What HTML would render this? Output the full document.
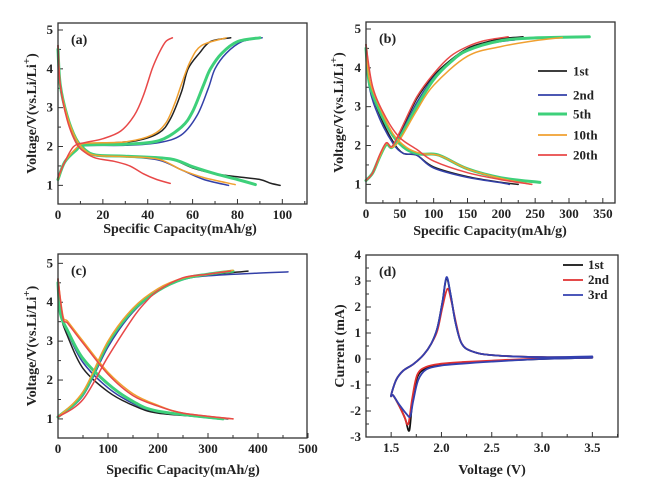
<!DOCTYPE html>
<html><head><meta charset="utf-8">
<style>
html,body{margin:0;padding:0;background:#fff;}
svg{display:block;font-family:"Liberation Serif",serif;}
.tk{font-size:13px;font-weight:bold;fill:#222;}
.ti{font-size:14px;font-weight:bold;fill:#222;}
</style></head>
<body>
<svg id="fig" width="647" height="484" viewBox="0 0 647 484"></svg>
<script>
const COLORS = ["#222222","#3340a8","#3ed07a","#f0a030","#e84848"];
const cycleNames = ["1st","2nd","5th","10th","20th"];
// Panel (a): charge and discharge curves [capacity, voltage]
const aCharge = [
 [[0,1.15],[3,1.6],[8,1.9],[12,2.05],[20,2.08],[35,2.15],[45,2.35],[50,2.7],[55,3.4],[58,4.0],[63,4.4],[68,4.7],[77,4.8]],
 [[0,1.15],[3,1.6],[8,1.9],[12,2.02],[30,2.03],[45,2.1],[55,2.3],[62,2.8],[67,3.5],[70,4.0],[75,4.4],[82,4.7],[91,4.8]],
 [[0,1.15],[3,1.6],[8,1.9],[12,2.04],[30,2.06],[45,2.15],[55,2.5],[60,2.9],[65,3.6],[68,4.0],[73,4.4],[80,4.7],[90,4.8]],
 [[0,1.15],[3,1.6],[8,1.95],[12,2.08],[30,2.12],[42,2.3],[48,2.6],[52,3.1],[55,3.6],[59,4.2],[64,4.6],[75,4.8]],
 [[0,1.2],[3,1.6],[7,2.0],[12,2.1],[20,2.2],[28,2.4],[34,2.8],[38,3.3],[42,4.0],[45,4.4],[48,4.7],[51,4.8]]
];
const aDischarge = [
 [[0,4.6],[1,3.6],[4,2.8],[8,2.2],[12,1.9],[17,1.78],[30,1.75],[45,1.72],[52,1.65],[60,1.45],[70,1.3],[80,1.22],[90,1.15],[95,1.05],[99,1.0]],
 [[0,4.6],[1,3.6],[4,2.8],[8,2.2],[12,1.9],[17,1.76],[30,1.74],[45,1.65],[55,1.4],[65,1.15],[76,1.0]],
 [[0,4.5],[1,3.6],[4,2.8],[8,2.2],[12,1.92],[17,1.78],[30,1.75],[50,1.68],[60,1.48],[70,1.3],[80,1.15],[88,1.02]],
 [[0,4.6],[1,3.6],[4,2.8],[8,2.2],[12,1.9],[17,1.77],[30,1.74],[45,1.67],[55,1.4],[65,1.2],[79,1.02]],
 [[0,4.6],[1,3.6],[4,2.7],[8,2.1],[12,1.85],[17,1.7],[25,1.62],[32,1.5],[38,1.3],[44,1.15],[50,1.05]]
];
// Panel (b)
const bCharge = [
 [[0,1.1],[10,1.3],[20,1.7],[30,2.05],[38,1.95],[50,2.3],[75,3.2],[100,3.8],[125,4.2],[150,4.5],[175,4.65],[200,4.75],[232,4.8]],
 [[0,1.1],[10,1.3],[20,1.7],[30,2.02],[38,1.95],[50,2.25],[75,3.1],[100,3.75],[125,4.15],[150,4.45],[175,4.6],[200,4.68],[220,4.72]],
 [[0,1.1],[10,1.3],[20,1.7],[30,2.03],[38,1.95],[50,2.2],[75,3.0],[100,3.7],[125,4.15],[150,4.45],[200,4.7],[250,4.77],[330,4.8]],
 [[0,1.1],[10,1.3],[20,1.7],[30,2.05],[38,1.95],[50,2.15],[75,2.9],[100,3.55],[150,4.3],[200,4.55],[250,4.7],[290,4.78]],
 [[0,1.1],[10,1.3],[20,1.75],[30,2.07],[38,1.97],[50,2.35],[75,3.25],[100,3.85],[125,4.3],[150,4.55],[175,4.7],[210,4.8]]
];
const bDischarge = [
 [[0,4.6],[5,3.6],[20,2.8],[40,2.1],[55,1.8],[75,1.75],[100,1.45],[150,1.2],[200,1.05],[225,1.0]],
 [[0,4.6],[5,3.5],[20,2.7],[40,2.05],[55,1.8],[75,1.75],[100,1.42],[150,1.18],[200,1.04],[212,1.0]],
 [[0,4.5],[5,3.6],[20,2.9],[40,2.25],[60,1.9],[80,1.78],[100,1.78],[115,1.7],[150,1.4],[200,1.17],[257,1.05]],
 [[0,4.6],[5,3.7],[20,3.0],[40,2.3],[60,1.95],[80,1.8],[100,1.77],[115,1.7],[150,1.4],[200,1.15],[245,1.0]],
 [[0,4.6],[10,3.5],[30,2.7],[50,2.2],[75,1.9],[100,1.6],[150,1.3],[200,1.12],[245,1.0]]
];
// Panel (c)
const cCharge = [
 [[0,1.05],[50,1.65],[100,2.9],[150,3.8],[200,4.3],[250,4.6],[300,4.7],[380,4.8]],
 [[0,1.05],[50,1.6],[100,2.85],[150,3.75],[200,4.28],[250,4.58],[300,4.68],[400,4.75],[460,4.78]],
 [[0,1.05],[50,1.65],[100,2.95],[150,3.8],[200,4.3],[250,4.6],[300,4.72],[350,4.8]],
 [[0,1.05],[50,1.7],[100,3.0],[150,3.85],[200,4.35],[250,4.62],[300,4.72],[350,4.82]],
 [[0,1.05],[50,1.5],[100,2.6],[150,3.6],[175,4.0],[200,4.3],[250,4.63],[300,4.72],[345,4.8]]
];
const cDischarge = [
 [[0,4.6],[5,3.7],[20,3.1],[50,2.3],[100,1.7],[150,1.35],[200,1.15],[300,1.05],[340,1.0]],
 [[0,4.6],[5,3.7],[20,3.2],[50,2.45],[100,1.8],[150,1.4],[200,1.18],[320,1.0]],
 [[0,4.5],[5,3.7],[20,3.25],[50,2.55],[100,1.9],[150,1.45],[200,1.2],[330,1.0]],
 [[0,4.6],[10,3.65],[20,3.5],[50,3.0],[100,2.2],[150,1.65],[200,1.35],[250,1.15],[350,1.0]],
 [[0,4.6],[10,3.6],[20,3.45],[50,2.95],[100,2.15],[150,1.6],[200,1.33],[250,1.15],[350,1.0]]
];
// Panel (d) CV loops [voltage, current]
const dNames = ["1st","2nd","3rd"];
const dColors = ["#111111","#e03030","#3340b0"];
const dLoops = [
 [[3.5,0.05],[3.0,0.0],[2.5,-0.08],[2.2,-0.15],[2.0,-0.22],[1.85,-0.35],[1.76,-0.7],[1.71,-1.7],[1.68,-2.75],[1.64,-2.3],[1.58,-1.8],[1.52,-1.4],[1.5,-1.4],[1.55,-0.8],[1.62,-0.45],[1.72,-0.2],[1.82,0.15],[1.9,0.6],[1.96,1.2],[2.01,2.2],[2.05,3.1],[2.09,2.5],[2.14,1.4],[2.2,0.6],[2.3,0.3],[2.5,0.15],[3.0,0.07],[3.5,0.08]],
 [[3.5,0.05],[3.0,0.02],[2.5,-0.06],[2.2,-0.12],[2.0,-0.18],[1.85,-0.3],[1.76,-0.6],[1.71,-1.5],[1.67,-2.5],[1.63,-2.2],[1.58,-1.8],[1.52,-1.4],[1.5,-1.4],[1.55,-0.8],[1.62,-0.45],[1.72,-0.2],[1.82,0.15],[1.9,0.6],[1.96,1.1],[2.01,2.0],[2.06,2.7],[2.1,2.2],[2.15,1.3],[2.2,0.6],[2.3,0.3],[2.5,0.15],[3.0,0.07],[3.5,0.08]],
 [[3.5,0.05],[3.0,0.0],[2.5,-0.1],[2.2,-0.18],[2.0,-0.25],[1.85,-0.4],[1.77,-0.8],[1.72,-1.6],[1.69,-2.2],[1.65,-2.1],[1.58,-1.75],[1.52,-1.4],[1.5,-1.4],[1.55,-0.8],[1.62,-0.45],[1.72,-0.2],[1.82,0.15],[1.9,0.6],[1.96,1.2],[2.01,2.2],[2.05,3.15],[2.09,2.5],[2.14,1.4],[2.2,0.6],[2.3,0.3],[2.5,0.15],[3.0,0.07],[3.5,0.1]]
];
const aTicks=[0,20,40,60,80,100], bTicks=[0,50,100,150,200,250,300,350], cTicks=[0,100,200,300,400,500];
const vTicks=[1,2,3,4,5], dxTicks=[1.5,2.0,2.5,3.0,3.5], dyTicks=[-3,-2,-1,0,1,2,3,4];

const NS="http://www.w3.org/2000/svg";
const svg=document.getElementById("fig");
function el(tag,attrs,parent){const e=document.createElementNS(NS,tag);for(const k in attrs)e.setAttribute(k,attrs[k]);(parent||svg).appendChild(e);return e;}
function smooth(pts){
  let d="M"+pts[0][0].toFixed(1)+","+pts[0][1].toFixed(1);
  for(let i=0;i<pts.length-1;i++){
    const p0=pts[i-1]||pts[i],p1=pts[i],p2=pts[i+1],p3=pts[i+2]||p2;
    const c1=[p1[0]+(p2[0]-p0[0])/6,p1[1]+(p2[1]-p0[1])/6];
    const c2=[p2[0]-(p3[0]-p1[0])/6,p2[1]-(p3[1]-p1[1])/6];
    d+="C"+c1[0].toFixed(1)+","+c1[1].toFixed(1)+" "+c2[0].toFixed(1)+","+c2[1].toFixed(1)+" "+p2[0].toFixed(1)+","+p2[1].toFixed(1);
  }
  return d;
}
function panel(o){
  const g=el("g",{});
  
  
  const sx=v=>o.x0+(v-o.xmin)/(o.xmax-o.xmin)*(o.x1-o.x0);
  const sy=v=>o.y1-(v-o.ymin)/(o.ymax-o.ymin)*(o.y1-o.y0);
  const xs=o.xTicks, step=xs[1]-xs[0];
  for(let i=0;i<xs.length;i++){
    const X=sx(xs[i]);
    if(X<=o.x1+1){el("line",{x1:X,y1:o.y1,x2:X,y2:o.y1-5,stroke:"#333","stroke-width":1},g);}
    const mX=sx(xs[i]+step/2); if(mX<o.x1) el("line",{x1:mX,y1:o.y1,x2:mX,y2:o.y1-3,stroke:"#333","stroke-width":1},g);
    const t=el("text",{x:X,y:o.y1+15,"text-anchor":"middle",class:"tk"},g);
    t.textContent=o.xFmt?o.xFmt(xs[i]):xs[i];
    
    
  }
  const ys=o.yTicks, ystep=ys[1]-ys[0];
  for(let i=0;i<ys.length;i++){
    const Y=sy(ys[i]);
    el("line",{x1:o.x0,y1:Y,x2:o.x0+5,y2:Y,stroke:"#333","stroke-width":1},g);
    const mY=sy(ys[i]+ystep/2); if(mY>o.y0) el("line",{x1:o.x0,y1:mY,x2:o.x0+3,y2:mY,stroke:"#333","stroke-width":1},g);
    const mY2=sy(ys[i]-ystep/2); if(i==0&&mY2<o.y1) el("line",{x1:o.x0,y1:mY2,x2:o.x0+3,y2:mY2,stroke:"#333","stroke-width":1},g);
    const t=el("text",{x:o.x0-5,y:Y+4,"text-anchor":"end",class:"tk"},g);
    t.textContent=ys[i];
    
    
  }
  o.series.forEach(s=>{
    const p=el("path",{d:smooth(s.pts.map(q=>[sx(q[0]),sy(q[1])])),fill:"none",stroke:s.color,"stroke-width":s.w||1.5,"stroke-linejoin":"round","stroke-linecap":"round"},g);
    
    
  });
  const fr=el("rect",{x:o.x0,y:o.y0,width:o.x1-o.x0,height:o.y1-o.y0,fill:"none",stroke:"#333","stroke-width":1.3},g);
  
  
  const lb=el("text",{x:o.x0+13,y:o.y0+21,class:"ti","font-size":"16"},g);
  lb.textContent=o.label;
  
  
  const xt=el("text",{x:o.xtX,y:o.xtY,"text-anchor":"middle",class:"ti"},g);
  xt.textContent=o.xTitle;
  
  
  const yt=el("text",{x:0,y:0,"text-anchor":"middle",class:"ti",transform:`translate(${o.ytX},${(o.y0+o.y1)/2}) rotate(-90)`},g);
  if(o.yTitleLi){yt.innerHTML='Voltage/V(vs.Li/Li<tspan dy="-6" font-size="11">+</tspan><tspan dy="6">)</tspan>';}
  else yt.textContent=o.yTitle;
  
  
  return g;
}
function cycSeries(ch,dis){
  const s=[];
  for(let i=0;i<5;i++){
    s.push({pts:ch[i],color:COLORS[i],w:i==2?3:1.5,name:"charge-"+cycleNames[i]});
    s.push({pts:dis[i],color:COLORS[i],w:i==2?3:1.5,name:"discharge-"+cycleNames[i]});
  }
  return s;
}
const VT="Specific Capacity(mAh/g)";
panel({name:"panel-a",label:"(a)",x0:58,x1:307,y0:23,y1:204,xmin:0,xmax:111,ymin:0.52,ymax:5.18,xTicks:aTicks,yTicks:vTicks,series:cycSeries(aCharge,aDischarge),xTitle:VT,xtX:180,xtY:233,ytX:36,yTitleLi:true});
panel({name:"panel-b",label:"(b)",x0:366,x1:615,y0:22,y1:203,xmin:0,xmax:368,ymin:0.52,ymax:5.18,xTicks:bTicks,yTicks:vTicks,series:cycSeries(bCharge,bDischarge),xTitle:VT,xtX:490,xtY:235,ytX:343,yTitleLi:true});
panel({name:"panel-c",label:"(c)",x0:58,x1:307,y0:254,y1:438,xmin:0,xmax:498,ymin:0.51,ymax:5.24,xTicks:cTicks,yTicks:vTicks,series:cycSeries(cCharge,cDischarge),xTitle:VT,xtX:183,xtY:474,ytX:36,yTitleLi:true});
const dSeries=dLoops.map((p,i)=>({pts:p,color:dColors[i],w:1.8,name:"cv-"+dNames[i]}));
panel({name:"panel-d",label:"(d)",x0:366,x1:618,y0:255,y1:437,xmin:1.25,xmax:3.755,ymin:-3,ymax:4,xTicks:dxTicks,yTicks:dyTicks,xFmt:v=>v.toFixed(1),series:dSeries,xTitle:"Voltage (V)",xtX:492,xtY:474,ytX:344,yTitle:"Current (mA)"});
const lgB=[71,95,114,135,155];
for(let i=0;i<5;i++){
  const l=el("line",{x1:538,y1:lgB[i],x2:567,y2:lgB[i],stroke:COLORS[i],"stroke-width":i==2?3:1.8});
  
  
  const t=el("text",{x:573,y:lgB[i]+4.5,class:"tk","font-size":"14"});
  t.textContent=cycleNames[i];
  
  
}
const lgD=[265,280,295];
for(let i=0;i<3;i++){
  const l=el("line",{x1:563,y1:lgD[i],x2:583,y2:lgD[i],stroke:dColors[i],"stroke-width":1.8});
  
  
  const t=el("text",{x:588,y:lgD[i]+4,class:"tk","font-size":"12"});
  t.textContent=dNames[i];
  
  
}
</script>
</body></html>
